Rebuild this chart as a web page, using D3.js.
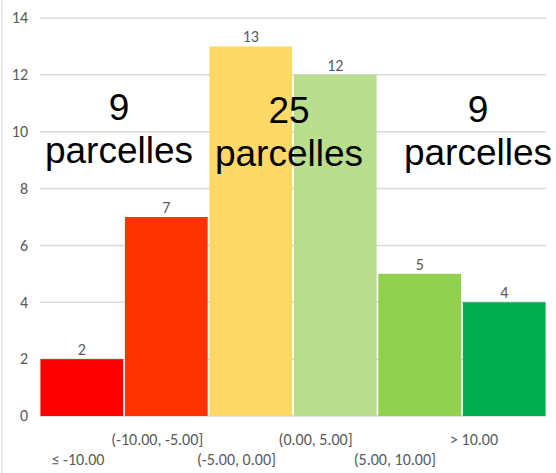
<!DOCTYPE html>
<html><head><meta charset="utf-8">
<script src="https://cdn.jsdelivr.net/npm/d3@7"></script>
<style>body{margin:0;background:#fff}svg{display:block}</style>
</head><body>
<script>
const categories = ["≤ -10.00","(-10.00, -5.00]","(-5.00, 0.00]","(0.00, 5.00]","(5.00, 10.00]","> 10.00"];
const counts = [2, 7, 13, 12, 5, 4];
const barColors = ["#FF0000","#FF3300","#FFD966","#B9DF8E","#92D050","#00B050"];
const yTicks = [0, 2, 4, 6, 8, 10, 12, 14];
const groupNumbers = ["9", "25", "9"];
const groupWord = "parcelles";

const W = 556, H = 473;
const smallFont = "Carlito, Calibri, 'Liberation Sans', Arial, sans-serif";
const svg = d3.select("body").append("svg").attr("width", W).attr("height", H);

const x = d3.scaleBand().domain(categories).range([40, 546]).paddingInner(0.02).paddingOuter(0.005);
const xLab = d3.scalePoint().domain(categories).range([78, 474]);
const y = d3.scaleLinear().domain([0, 14]).range([416, 18]);

// chart-area left border
svg.append("line").attr("x1", 2).attr("x2", 2).attr("y1", 0).attr("y2", H)
  .attr("stroke", "#D9D9D9").attr("stroke-width", 1);

// gridlines
svg.append("g").selectAll("line").data(yTicks).join("line")
  .attr("x1", 40).attr("x2", 546)
  .attr("y1", d => y(d)).attr("y2", d => y(d))
  .attr("stroke", "#D9D9D9").attr("stroke-width", 1.5);

// y tick labels
svg.append("g").selectAll("text").data(yTicks).join("text")
  .attr("x", 28).attr("y", d => y(d)).attr("dy", "0.33em")
  .attr("text-anchor", "end")
  .attr("font-family", smallFont)
  .attr("font-size", 16).attr("fill", "#595959")
  .text(d => d);

// bars
svg.append("g").selectAll("rect").data(categories).join("rect")
  .attr("x", d => x(d)).attr("width", x.bandwidth())
  .attr("y", (d, i) => y(counts[i])).attr("height", (d, i) => y(0) - y(counts[i]))
  .attr("fill", (d, i) => barColors[i]);

// value labels
svg.append("g").selectAll("text").data(categories).join("text")
  .attr("x", d => x(d) + x.bandwidth() / 2)
  .attr("y", (d, i) => y(counts[i]) - 4)
  .attr("text-anchor", "middle")
  .attr("font-family", smallFont)
  .attr("font-size", 16).attr("fill", "#595959")
  .text((d, i) => counts[i]);

// x labels (staggered)
svg.append("g").selectAll("text").data(categories).join("text")
  .attr("x", d => xLab(d))
  .attr("y", (d, i) => i % 2 === 0 ? 465 : 445)
  .attr("text-anchor", "middle")
  .attr("font-family", smallFont)
  .attr("font-size", 16).attr("fill", "#595959")
  .text(d => d);

// group annotations
const annX = [119, 289, 478];
const annY = [120, 123, 122];
const ann = svg.append("g").selectAll("g").data(groupNumbers).join("g");
ann.append("text")
  .attr("x", (d, i) => annX[i]).attr("y", (d, i) => annY[i])
  .attr("text-anchor", "middle")
  .attr("font-family", "'Liberation Sans', Arial, sans-serif")
  .attr("font-size", 37).attr("fill", "#000")
  .text(d => d);
ann.append("text")
  .attr("x", (d, i) => annX[i]).attr("y", (d, i) => annY[i] + 43)
  .attr("text-anchor", "middle")
  .attr("font-family", "'Liberation Sans', Arial, sans-serif")
  .attr("font-size", 37).attr("fill", "#000")
  .text(groupWord);
</script>
</body></html>
